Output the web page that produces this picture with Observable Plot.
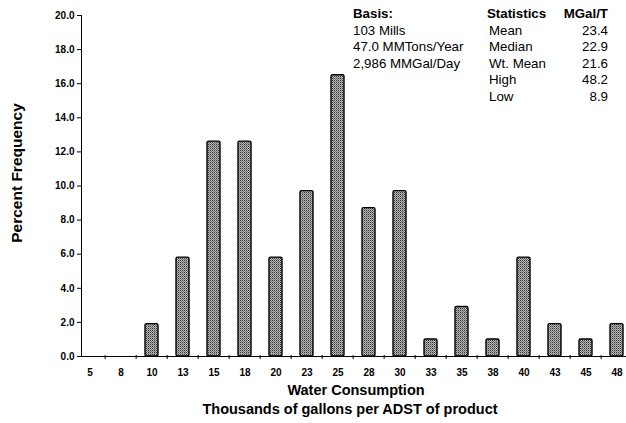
<!DOCTYPE html>
<html>
<head>
<meta charset="utf-8">
<script src="https://cdn.jsdelivr.net/npm/d3@7"></script>
<script src="https://cdn.jsdelivr.net/npm/@observablehq/plot@0.6"></script>
<style>
  html, body { margin: 0; padding: 0; background: #fff; }
  #wrap { position: relative; width: 626px; height: 423px; font-family: "Liberation Sans", Arial, sans-serif; color: #000; overflow: hidden; }
  #wrap svg { position: absolute; left: 0; top: 0; }
  .xt { position: absolute; left: 200px; width: 306px; text-align: center; font-weight: bold; font-size: 14.5px; line-height: 17px; white-space: nowrap; }
  .yt { position: absolute; width: 200px; text-align: center; font-weight: bold; font-size: 15.5px; line-height: 18px; white-space: nowrap; transform: rotate(-90deg); }
  .st { position: absolute; font-size: 13.3px; white-space: nowrap; line-height: 16px; }
  .b { font-weight: bold; }
  .r { text-align: right; }
</style>
</head>
<body>
<div id="wrap"></div>
<script>
const categories = ["5","8","10","13","15","18","20","23","25","28","30","33","35","38","40","43","45","48"];
const percents   = [0, 0, 1.9, 5.8, 12.6, 12.6, 5.8, 9.7, 16.5, 8.7, 9.7, 1.0, 2.9, 1.0, 5.8, 1.9, 1.0, 1.9];
const yTicks = [0,2,4,6,8,10,12,14,16,18,20];
const basisLines = ["Basis:", "103 Mills", "47.0 MMTons/Year", "2,986 MMGal/Day"];
const statNames = ["Mean", "Median", "Wt. Mean", "High", "Low"];
const statValues = ["23.4", "22.9", "21.6", "48.2", "8.9"];
const yLabel = "Percent Frequency";
const xTitle1 = "Water Consumption";
const xTitle2 = "Thousands of gallons per ADST of product";

const data = categories.map((c, i) => ({cat: c, pct: percents[i]}));
const W = 626, H = 382, ML = 81, MR = 0, MT = 15, MB = 26;
const step = (W - ML - MR) / categories.length;

const defs = () => {
  const d = d3.create("svg:defs");
  const p = d.append("pattern").attr("id", "dither").attr("patternUnits", "userSpaceOnUse")
    .attr("width", 2).attr("height", 2);
  p.append("rect").attr("width", 2).attr("height", 2).attr("fill", "#b8b8b8");
  p.append("rect").attr("x", 0).attr("y", 0).attr("width", 1).attr("height", 1).attr("fill", "#333");
  p.append("rect").attr("x", 1).attr("y", 1).attr("width", 1).attr("height", 1).attr("fill", "#777");
  return d.node();
};

const chart = Plot.plot({
  width: W, height: H,
  marginLeft: ML, marginRight: MR, marginTop: MT, marginBottom: MB,
  style: {fontFamily: "'Liberation Sans', Arial, sans-serif", background: "transparent", color: "#000"},
  x: {domain: categories, paddingInner: 0.57, paddingOuter: 0, align: 0.5},
  y: {domain: [0, 20]},
  marks: [
    defs,
    Plot.barY(data, {x: "cat", y: "pct", fill: "url(#dither)", stroke: "#000", strokeWidth: 1.4, rx: 1.5}),
    Plot.ruleY([0], {stroke: "#000", strokeWidth: 1}),
    Plot.ruleX(categories, {x: d => d, dx: step / 2, y1: -0.18, y2: 0.06, stroke: "#000", strokeWidth: 1}),
    Plot.frame({anchor: "left", stroke: "#000"}),
    Plot.axisY({ticks: yTicks, tickFormat: d3.format(".1f"), tickSize: 4, tickPadding: 3, fontSize: 10, fontWeight: "bold", label: null}),
    Plot.axisX({tickSize: 0, tickPadding: 12, fontSize: 10, fontWeight: "bold", label: null})
  ]
});

const wrap = document.getElementById("wrap");
wrap.appendChild(chart);

function addText(txt, cls, left, top, width) {
  const el = document.createElement("div");
  el.className = cls;
  el.textContent = txt;
  el.style.left = left + "px";
  el.style.top = top + "px";
  if (width) el.style.width = width + "px";
  wrap.appendChild(el);
  return el;
}
addText(xTitle1, "xt", 203, 382);
addText(xTitle2, "xt", 197, 401);
// rotated y-axis title centred at (17, 173)
addText(yLabel, "yt", 17 - 100, 173 - 9);

const rowTop = 6, rowH = 16.6;
basisLines.forEach((t, i) => addText(t, "st" + (i === 0 ? " b" : ""), 353, rowTop + i * rowH));
addText("Statistics", "st b", 487, rowTop);
addText("MGal/T", "st b r", 548, rowTop, 60);
statNames.forEach((t, i) => addText(t, "st", 489, rowTop + (i + 1) * rowH));
statValues.forEach((t, i) => addText(t, "st r", 548, rowTop + (i + 1) * rowH, 60));
</script>
</body>
</html>
